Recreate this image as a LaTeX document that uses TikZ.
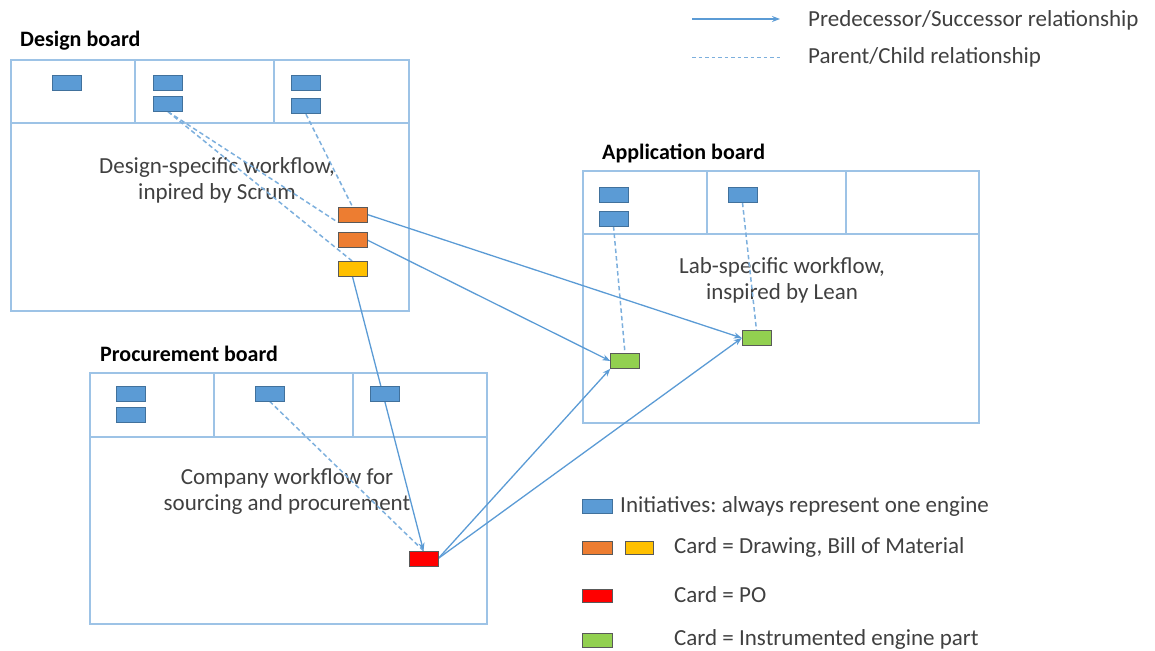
\documentclass[tikz,border=0pt]{standalone}
\usepackage{fontspec}
\setmainfont{Carlito}
\usetikzlibrary{arrows.meta}
\frenchspacing
\definecolor{cardblue}{HTML}{5B9BD5}
\definecolor{cardblueb}{HTML}{41719C}
\definecolor{cardorange}{HTML}{ED7D31}
\definecolor{cardyellow}{HTML}{FFC000}
\definecolor{cardred}{HTML}{FF0000}
\definecolor{cardgreen}{HTML}{92D050}
\definecolor{linkblue}{HTML}{5B9BD5}
\definecolor{boardline}{HTML}{9DC3E6}
\definecolor{txt}{HTML}{404040}
\tikzset{
  card/.style={draw=#1, line width=1pt, minimum width=29pt, minimum height=15pt, inner sep=0pt},
  bcard/.style={card=cardblueb, fill=cardblue},
  ocard/.style={card=gray!70!black, fill=cardorange},
  ycard/.style={card=gray!70!black, fill=cardyellow},
  rcard/.style={card=gray!70!black, fill=cardred},
  gcard/.style={card=gray!70!black, fill=cardgreen},
  board/.style={draw=boardline, line width=1.6pt},
  succ/.style={draw=linkblue, line width=1.3pt, -{Stealth[length=8pt,width=6pt]}},
  parent/.style={draw=linkblue!80, line width=1.5pt, dash pattern=on 4.5pt off 3pt},
  title/.style={font=\fontsize{22}{26}\selectfont\bfseries, anchor=west, inner sep=0pt},
  flow/.style={font=\fontsize{23}{26}\selectfont, text=txt, align=center, inner sep=0pt},
  legend/.style={font=\fontsize{23}{26}\selectfont, text=txt, anchor=west, inner sep=0pt}
}
\begin{document}
\begin{tikzpicture}[x=1pt,y=-1pt]
\useasboundingbox (0,0) rectangle (1155,650);
% boards
\draw[board] (11,60) rectangle (409,311);
\draw[board] (11,123) -- (409,123) (135,60) -- (135,123) (274,60) -- (274,123);
\draw[board] (583,171) rectangle (979,423);
\draw[board] (583,234) -- (979,234) (707,171) -- (707,234) (846,171) -- (846,234);
\draw[board] (90,373) rectangle (487,624);
\draw[board] (90,437) -- (487,437) (214,373) -- (214,437) (353,373) -- (353,437);
% titles
\node[title] (tD) at (20,41) {Design board};
\node[title] (tA) at (602,153) {Application board};
\node[title] (tP) at (100,354) {Procurement board};
% workflow texts
\node[flow] (fD) at (217,180) {Design-specific workflow,\\inpired by Scrum};
\node[flow] (fA) at (782,280) {Lab-specific workflow,\\inspired by Lean};
\node[flow] (fP) at (287,491) {Company workflow for\\sourcing and procurement};
% card coordinates
\coordinate (cD1) at (67,83);
\coordinate (cD2a) at (168,83);
\coordinate (cD2b) at (168,104);
\coordinate (cD3a) at (306,83);
\coordinate (cD3b) at (306,106.5);
\coordinate (cO1) at (352.5,214.5);
\coordinate (cO2) at (352.5,240);
\coordinate (cY) at (352.5,269);
\coordinate (cA1a) at (613.5,194.5);
\coordinate (cA1b) at (613.5,218.5);
\coordinate (cA2) at (742.5,195);
\coordinate (cG1) at (625,361);
\coordinate (cG2) at (756.5,338);
\coordinate (cP1a) at (131,393.5);
\coordinate (cP1b) at (131,414.5);
\coordinate (cP2) at (269.5,393.5);
\coordinate (cP3) at (384.5,393.5);
\coordinate (cR) at (423.5,558.5);
% invisible placeholders for connectors
\foreach \n in {D1,D2a,D2b,D3a,D3b,O1,O2,Y,A1a,A1b,A2,G1,G2,P1a,P1b,P2,P3,R}
  \node[minimum width=29pt, minimum height=15pt, inner sep=0pt] (\n) at (c\n) {};
% connectors
\draw[parent] (D2b.south) -- (O1.south west);
\draw[parent] (D2b.south) -- (Y.north);
\draw[parent] (D3b.south) -- (O1.north);
\draw[parent] (A1b.south) -- (G1.north);
\draw[parent] (A2.south) -- (G2.north);
\draw[parent] (P2.south) -- (R.north);
\draw[succ] (O1.east) -- (G2.west);
\draw[succ] (O2.east) -- (G1.west);
\draw[succ] (Y.south) -- (R.north);
\draw[succ] (R.east) -- (G1.south west);
\draw[succ] (R.east) -- (G2.west);
% cards
\node[bcard] at (D1) {};
\node[bcard] at (D2a) {};
\node[bcard] at (D2b) {};
\node[bcard] at (D3a) {};
\node[bcard] at (D3b) {};
\node[ocard] at (O1) {};
\node[ocard] at (O2) {};
\node[ycard] at (Y) {};
\node[bcard] at (A1a) {};
\node[bcard] at (A1b) {};
\node[bcard] at (A2) {};
\node[gcard] at (G1) {};
\node[gcard] at (G2) {};
\node[bcard] at (P1a) {};
\node[bcard] at (P1b) {};
\node[bcard] at (P2) {};
\node[bcard] at (P3) {};
\node[rcard] at (R) {};
% top legend
\coordinate (l1a) at (692,19);
\coordinate (l1b) at (780,19);
\draw[succ] (l1a) -- (l1b);
\node[legend] (lt1) at (808,20) {Predecessor/Successor relationship};
\coordinate (l2a) at (692,58);
\coordinate (l2b) at (780,58);
\draw[draw=linkblue!80, line width=1pt, dash pattern=on 3.5pt off 3pt] (l2a) -- (l2b);
\node[legend] (lt2) at (808,57) {Parent/Child relationship};
% bottom legend
\node[bcard, minimum width=30pt, minimum height=14pt] (kB) at (597,506) {};
\node[legend] (kBt) at (620,506) {Initiatives: always represent one engine};
\node[ocard, minimum width=30pt, minimum height=13pt] (kO) at (597,547.5) {};
\node[ycard, minimum width=28pt, minimum height=13pt] (kY) at (639,547.5) {};
\node[legend] (kOt) at (674,547) {Card = Drawing, Bill of Material};
\node[rcard, minimum width=30pt, minimum height=13pt] (kR) at (597,596) {};
\node[legend] (kRt) at (674,595) {Card = PO};
\node[gcard, minimum width=30pt, minimum height=14pt] (kG) at (597,640) {};
\node[legend] (kGt) at (674,639) {Card = Instrumented engine part};
\end{tikzpicture}
\end{document}
